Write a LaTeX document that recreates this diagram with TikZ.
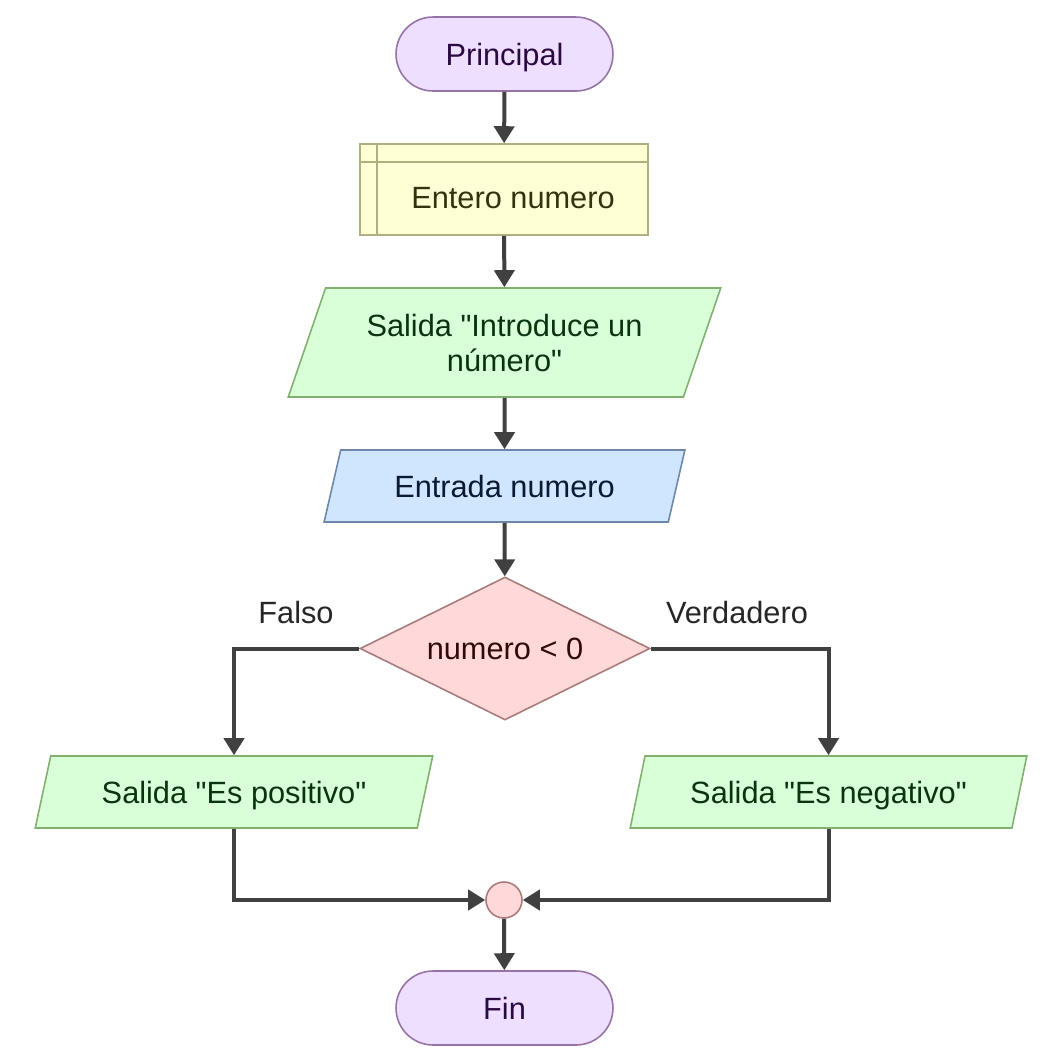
\documentclass[tikz,border=0pt]{standalone}
\usepackage{fontspec}
\setmainfont{Liberation Sans}[Ligatures=TeXOff]
\usetikzlibrary{shapes.geometric,arrows.meta}
%
% colores
\definecolor{lilafondo}{HTML}{EEDEFF}
\definecolor{lilaborde}{HTML}{9673A6}
\definecolor{lilatexto}{HTML}{2A0A40}
\definecolor{amarfondo}{HTML}{FFFFD6}
\definecolor{amarborde}{HTML}{AFAF80}
\definecolor{amartexto}{HTML}{333310}
\definecolor{verdefondo}{HTML}{D9FFD9}
\definecolor{verdeborde}{HTML}{82B070}
\definecolor{verdetexto}{HTML}{0A3310}
\definecolor{azulfondo}{HTML}{D0E6FF}
\definecolor{azulborde}{HTML}{6E87A8}
\definecolor{azultexto}{HTML}{0A1A33}
\definecolor{rojofondo}{HTML}{FFD9D9}
\definecolor{rojoborde}{HTML}{A87A7A}
\definecolor{rojotexto}{HTML}{330A0A}
\definecolor{linea}{HTML}{404040}
%
\tikzset{
  base/.style={line width=0.9pt, inner sep=0pt, text depth=0pt,
    font=\fontsize{17.5}{20}\selectfont},
  inicio/.style={base, rectangle, rounded corners=0.74cm, draw=lilaborde, fill=lilafondo,
    text=lilatexto, minimum width=4.34cm, minimum height=1.48cm},
  declarar/.style={base, rectangle, draw=amarborde, fill=amarfondo,
    minimum width=5.76cm, minimum height=1.82cm},
  datos/.style={base, trapezium, trapezium left angle=63.4, trapezium right angle=116.6,
    trapezium stretches=true, minimum height=1.44cm, align=center},
  salida/.style={datos, draw=verdeborde, fill=verdefondo, text=verdetexto},
  entrada/.style={datos, draw=azulborde, fill=azulfondo, text=azultexto},
  decision/.style={base, diamond, aspect=2, draw=rojoborde, fill=rojofondo,
    text=rojotexto, minimum width=5.8cm, minimum height=2.86cm},
  union/.style={base, circle, draw=rojoborde, fill=rojofondo, minimum size=0.72cm},
  flecha/.style={draw=linea, line width=0.08cm,
    -{Triangle[length=0.34cm,width=0.4cm]}},
  rotulo/.style={font=\fontsize{17.5}{20}\selectfont, text=black!85}
}
%
\begin{document}
\begin{tikzpicture}[x=0.02cm,y=-0.02cm]
\useasboundingbox (0,0) rectangle (1045,1063);
%
% bloques
\node[inicio] (prin) at (504.5,54) {Principal};
\node[declarar] (ent) at (504,189.5) {};
\draw[amarborde, line width=0.9pt] ([xshift=0.36cm]ent.north west) -- ([xshift=0.36cm]ent.south west);
\draw[amarborde, line width=0.9pt] ([yshift=-0.38cm]ent.north west) -- ([yshift=-0.38cm]ent.north east);
\node[base, text=amartexto] (entxt) at (513,198) {Entero numero};
\node[salida, minimum width=8.66cm, minimum height=2.18cm] (sal1) at (504.5,342.5)
  {Salida "Introduce un\\ número"};
\node[entrada, minimum width=7.22cm] (entr) at (504.5,486) {Entrada numero};
\node[decision] (dec) at (505,648.5) {numero < 0};
\node[salida, minimum width=7.96cm] (pos) at (234,792) {Salida "Es positivo"};
\node[salida, minimum width=7.94cm] (neg) at (828.5,792) {Salida "Es negativo"};
\node[union] (circ) at (504,900) {};
\node[inicio] (fin) at (504.5,1008) {Fin};
%
% rotulos de las ramas
\node[rotulo] (falso) at (296,612) {Falso};
\node[rotulo] (verdad) at (737,612) {Verdadero};
%
% conexiones
\draw[flecha] (prin) -- (ent);
\draw[flecha] (ent) -- (sal1);
\draw[flecha] (sal1) -- (entr);
\draw[flecha] (entr) -- (dec);
\draw[flecha] (dec.west) -| (pos.north);
\draw[flecha] (dec.east) -| (neg.north);
\draw[flecha] (pos.south) |- (circ.west);
\draw[flecha] (neg.south) |- (circ.east);
\draw[flecha] (circ) -- (fin);
%
\end{tikzpicture}
\end{document}
